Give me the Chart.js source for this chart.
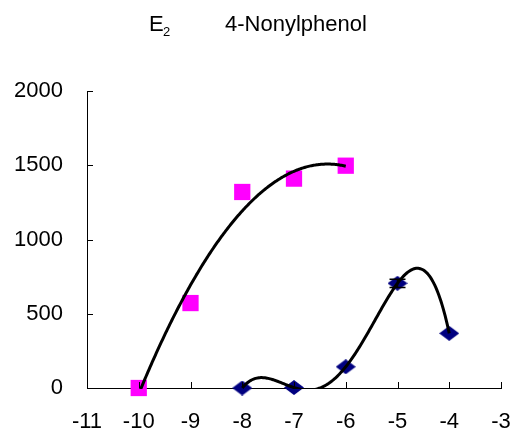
<!DOCTYPE html>
<html>
<head>
<meta charset="utf-8">
<script src="https://cdn.jsdelivr.net/npm/chart.js@4/dist/chart.umd.min.js"></script>
<style>
  html, body { margin: 0; padding: 0; background: #fff; }
  #wrap { width: 517px; height: 432px; }
</style>
</head>
<body>
<div id="wrap"><canvas id="chart" width="517" height="432"></canvas></div>
<script>
// valeurs
const e2X = [-10, -9, -8, -7, -6];
const e2Values = [0, 572, 1320, 1410, 1497];

const npX = [-8, -7, -6, -5, -4];
const npValues = [0, 3, 143, 705, 368];
const npErrors = [0, 0, 0, 28, 0];

const xTicks = [-11, -10, -9, -8, -7, -6, -5, -4, -3];
const yTicks = [0, 500, 1000, 1500, 2000];

const FONT = "'Liberation Sans', Arial, sans-serif";

// courbe de tendance polynomiale (moindres carrés), comme dans le graphique d'origine
function polyFit(xs, ys, order) {
    const n = order + 1;
    const A = [];
    for (let i = 0; i < n; i++) {
        A.push(new Array(n + 1).fill(0));
    }
    for (let k = 0; k < xs.length; k++) {
        for (let i = 0; i < n; i++) {
            for (let j = 0; j < n; j++) A[i][j] += Math.pow(xs[k], i + j);
            A[i][n] += ys[k] * Math.pow(xs[k], i);
        }
    }
    for (let c = 0; c < n; c++) {
        let p = c;
        for (let r = c + 1; r < n; r++) if (Math.abs(A[r][c]) > Math.abs(A[p][c])) p = r;
        [A[c], A[p]] = [A[p], A[c]];
        for (let r = 0; r < n; r++) {
            if (r === c) continue;
            const f = A[r][c] / A[c][c];
            for (let j = c; j <= n; j++) A[r][j] -= f * A[c][j];
        }
    }
    return A.map((row, i) => row[n] / row[i]);
}

function trendPoints(xs, ys, order) {
    const x0 = xs.reduce((a, b) => a + b, 0) / xs.length;
    const coef = polyFit(xs.map(x => x - x0), ys, order);
    const lo = Math.min(...xs), hi = Math.max(...xs);
    const pts = [];
    for (let i = 0; i <= 200; i++) {
        const x = lo + (hi - lo) * i / 200;
        let y = 0;
        coef.forEach((c, k) => { y += c * Math.pow(x - x0, k); });
        pts.push({ x: x, y: y });
    }
    return pts;
}

// losange bleu marine un peu plus large que haut
function diamond(w, h, color) {
    const c = document.createElement("canvas");
    c.width = w; c.height = h;
    const g = c.getContext("2d");
    g.fillStyle = color;
    g.beginPath();
    g.moveTo(w / 2, 0);
    g.lineTo(w, h / 2);
    g.lineTo(w / 2, h);
    g.lineTo(0, h / 2);
    g.closePath();
    g.fill();
    return c;
}

const headerPlugin = {
    id: "header",
    afterDraw(chart) {
        const ctx = chart.ctx;
        ctx.save();
        ctx.fillStyle = "#000";
        ctx.textBaseline = "alphabetic";
        ctx.font = "22px " + FONT;
        ctx.fillText("E", 149, 31);
        ctx.font = "13px " + FONT;
        ctx.fillText("2", 163, 36);
        ctx.font = "22px " + FONT;
        ctx.fillText("4-Nonylphenol", 225, 31);
        ctx.restore();
    }
};

// petites graduations tournées vers l'intérieur
const innerTicksPlugin = {
    id: "innerTicks",
    afterDatasetsDraw(chart) {
        const ctx = chart.ctx;
        const xs = chart.scales.x, ys = chart.scales.y;
        const a = chart.chartArea;
        ctx.save();
        ctx.strokeStyle = "#000";
        ctx.lineWidth = 1;
        ctx.beginPath();
        xTicks.forEach(v => {
            const px = Math.round(xs.getPixelForValue(v)) + 0.5;
            ctx.moveTo(px, a.bottom);
            ctx.lineTo(px, a.bottom - 6);
        });
        yTicks.forEach(v => {
            const py = Math.round(ys.getPixelForValue(v)) + 0.5;
            ctx.moveTo(a.left, py);
            ctx.lineTo(a.left + 6, py);
        });
        ctx.stroke();
        ctx.restore();
    }
};

const errorBarPlugin = {
    id: "errorBars",
    afterDatasetsDraw(chart) {
        const ctx = chart.ctx;
        const xs = chart.scales.x, ys = chart.scales.y;
        ctx.save();
        ctx.strokeStyle = "#000";
        ctx.lineWidth = 1.5;
        npX.forEach((x, i) => {
            if (!npErrors[i]) return;
            const px = xs.getPixelForValue(x);
            const top = ys.getPixelForValue(npValues[i] + npErrors[i]);
            const bot = ys.getPixelForValue(npValues[i] - npErrors[i]);
            ctx.beginPath();
            ctx.moveTo(px, top); ctx.lineTo(px, bot);
            ctx.moveTo(px - 8, top); ctx.lineTo(px + 8, top);
            ctx.moveTo(px - 8, bot); ctx.lineTo(px + 8, bot);
            ctx.stroke();
        });
        ctx.restore();
    }
};

const trendClip = { left: 5, right: 5, top: 5, bottom: 1 };

const ctx = document.getElementById("chart").getContext("2d");
new Chart(ctx, {
    type: "scatter",
    data: {
        datasets: [
            {
                label: "E2 trend",
                data: trendPoints(e2X, e2Values, 2),
                showLine: true,
                borderColor: "#000",
                borderWidth: 3,
                pointRadius: 0,
                tension: 0,
                clip: trendClip
            },
            {
                label: "4-Nonylphenol trend",
                data: trendPoints(npX, npValues, 4),
                showLine: true,
                borderColor: "#000",
                borderWidth: 3,
                pointRadius: 0,
                tension: 0,
                clip: trendClip
            },
            {
                label: "E2",
                data: e2X.map((x, i) => ({ x: x, y: e2Values[i] })),
                pointStyle: "rect",
                pointRadius: 11.5,
                backgroundColor: "#FF00FF",
                borderWidth: 0,
                clip: false
            },
            {
                label: "4-Nonylphenol",
                data: npX.map((x, i) => ({ x: x, y: npValues[i] })),
                pointStyle: diamond(20, 15, "#000080"),
                pointRadius: 10,
                backgroundColor: "#000080",
                borderWidth: 0,
                clip: false
            }
        ]
    },
    options: {
        responsive: false,
        animation: false,
        layout: { padding: { top: 91, right: 16, left: 0, bottom: 0 } },
        plugins: {
            legend: { display: false },
            tooltip: { enabled: false },
            title: { display: false }
        },
        scales: {
            x: {
                type: "linear",
                min: -11,
                max: -3,
                afterBuildTicks: s => { s.ticks = xTicks.map(v => ({ value: v })); },
                afterFit: s => { s.height = 44; s.paddingLeft = 0; s.paddingRight = 0; },
                grid: { display: false },
                border: { display: true, color: "#000", width: 1 },
                ticks: {
                    color: "#000",
                    font: { family: FONT, size: 22 },
                    padding: 13,
                    maxRotation: 0,
                    callback: v => String(v)
                }
            },
            y: {
                min: 0,
                max: 2000,
                afterBuildTicks: s => { s.ticks = yTicks.map(v => ({ value: v })); },
                afterFit: s => { s.width = 87; s.paddingTop = 0; s.paddingBottom = 0; },
                grid: { display: false },
                border: { display: true, color: "#000", width: 1 },
                ticks: {
                    color: "#000",
                    font: { family: FONT, size: 22 },
                    padding: 16,
                    callback: v => String(v)
                }
            }
        }
    },
    plugins: [headerPlugin, innerTicksPlugin, errorBarPlugin]
});
</script>
</body>
</html>
